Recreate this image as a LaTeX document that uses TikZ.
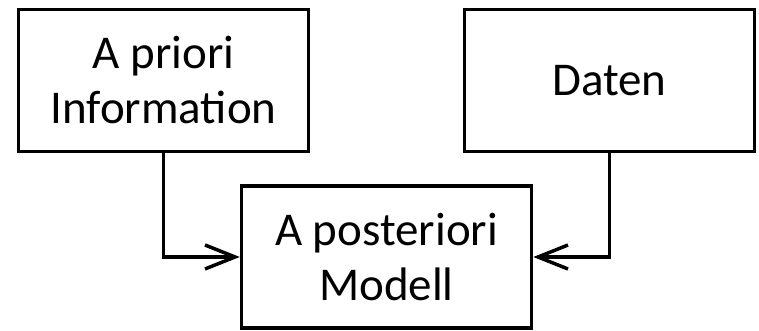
\documentclass[tikz,border=0pt]{standalone}
\usepackage{fontspec}
\setmainfont{Carlito}
\usetikzlibrary{arrows.meta}
\begin{document}
\begin{tikzpicture}[x=1pt, y=1pt, line width=3.5pt,
  box/.style={draw, rectangle, minimum width=290pt, minimum height=142pt, align=center, font=\fontsize{47}{55}\selectfont}]
  \useasboundingbox (0,0) rectangle (759,331);
  \node[box] (prior) at (163.5, 250.5) {A priori\\Information};
  \node[box] (daten) at (609.5, 250.5) {Daten};
  \node[box] (post) at (386.5, 74) {A posteriori\\Modell};

  \draw[-{Straight Barb[length=30pt, width=24pt]}] (prior.south) |- (post.west);
  \draw[-{Straight Barb[length=30pt, width=24pt]}] (daten.south) |- (post.east);
\end{tikzpicture}
\end{document}
